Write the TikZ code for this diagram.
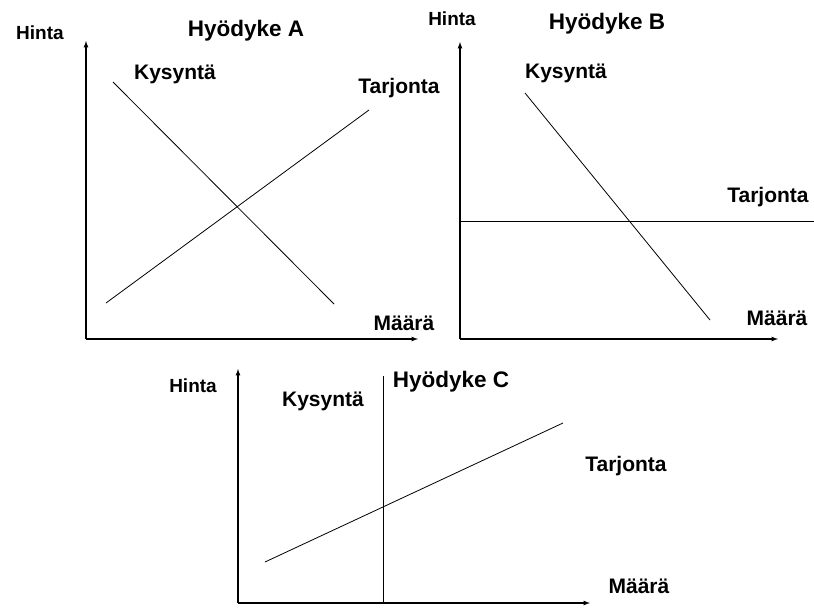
\documentclass[tikz,border=0pt]{standalone}
\usepackage{fontspec}
\setmainfont{Liberation Sans}
\usetikzlibrary{arrows,positioning}
\begin{document}
\begin{tikzpicture}
[x=1pt,y=-1pt,every node/.style={inner sep=0pt,font=\bfseries\fontsize{21}{25}\selectfont},
	axis/.style={->,>=latex,line width=1.2pt},
	curve/.style={line width=0.8pt},
	title/.style={font=\bfseries\fontsize{22.5}{26}\selectfont},
	hinta/.style={font=\bfseries\fontsize{19}{23}\selectfont}]
\useasboundingbox (0,0) rectangle (814,608);
%% Hyodyke A
\coordinate (oA) at (86,339);
\coordinate (yA) at (86,41);
\coordinate (xA) at (418,339);
\coordinate (kA1) at (113,82);
\coordinate (kA2) at (334,304);
\coordinate (tA1) at (106,303);
\coordinate (tA2) at (369,110);
\node[hinta] (hA) at (40,33) {Hinta};
\node[title] (nA) at (246,31) {Hyödyke A};
\node (ksA) at (175,74) {Kysyntä};
\node (trA) at (399,88) {Tarjonta};
\node (mA) at (404,323) {Määrä};
%% Hyodyke B
\coordinate (oB) at (460,339);
\coordinate (yB) at (460,42);
\coordinate (xB) at (778,339);
\coordinate (kB1) at (525,93);
\coordinate (kB2) at (710,320);
\coordinate (tB1) at (460,221);
\coordinate (tB2) at (814,221);
\node[hinta] (hB) at (452,19) {Hinta};
\node[title] (nB) at (607,24) {Hyödyke B};
\node (ksB) at (566,73) {Kysyntä};
\node (trB) at (768,197) {Tarjonta};
\node (mB) at (777,318) {Määrä};
%% Hyodyke C
\coordinate (oC) at (238,603);
\coordinate (yC) at (238,369);
\coordinate (xC) at (590,603);
\coordinate (kC1) at (383,376);
\coordinate (kC2) at (383,603);
\coordinate (tC1) at (265,562);
\coordinate (tC2) at (563,423);
\node[hinta] (hC) at (193,386) {Hinta};
\node[title] (nC) at (451,382) {Hyödyke C};
\node (ksC) at (323,401) {Kysyntä};
\node (trC) at (626,466) {Tarjonta};
\node (mC) at (639,586) {Määrä};
\path
\foreach \startNode/\endNode in {oA/yA,oA/xA,oB/yB,oB/xB,oC/yC,oC/xC}
{
	(\startNode) edge[axis] (\endNode)
};
\path
\foreach \startNode/\endNode in {kA1/kA2,tA1/tA2,kB1/kB2,tB1/tB2,kC1/kC2,tC1/tC2}
{
	(\startNode) edge[curve] (\endNode)
};
\end{tikzpicture}
\end{document}
